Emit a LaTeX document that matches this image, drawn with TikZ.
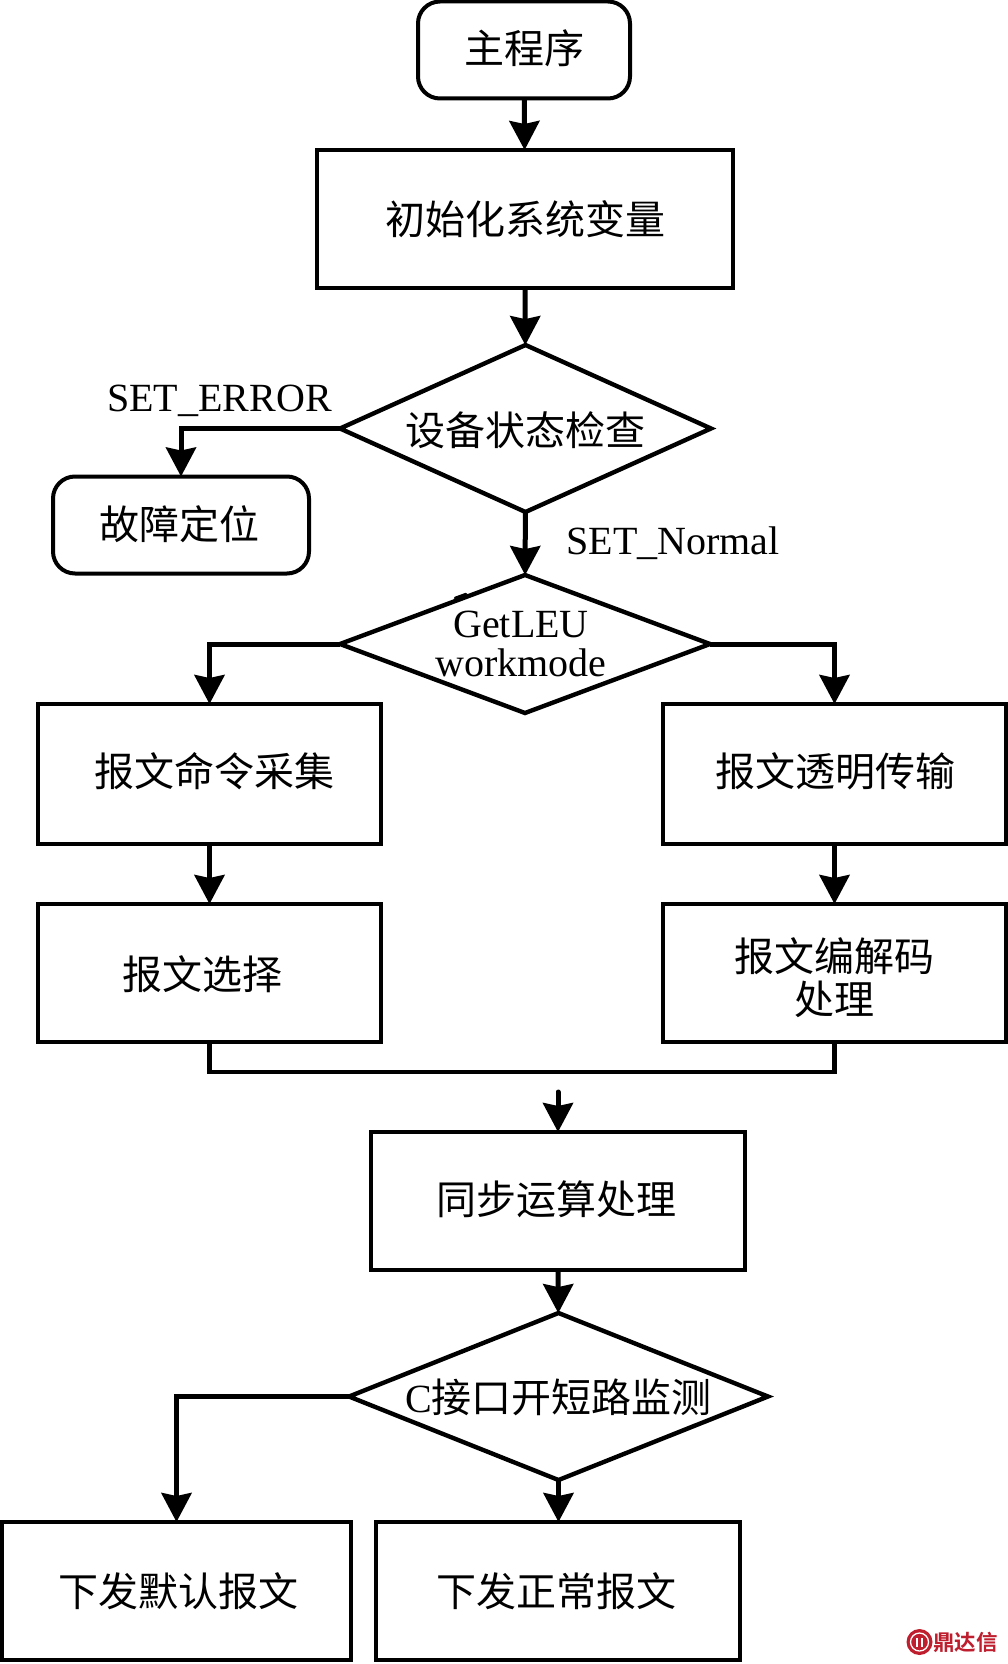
\documentclass[tikz,border=0pt]{standalone}
\usepackage{fontspec}
\setmainfont{Liberation Serif}
\newfontfamily\cjk{Noto Sans CJK SC}
\newfontfamily\cjkb{Noto Sans CJK SC Bold}
\usetikzlibrary{shapes.geometric,arrows.meta}
\definecolor{wm}{RGB}{190,30,45}
\tikzset{
  base/.style={line width=4pt,draw=black,outer sep=0pt,inner sep=0pt,align=center,
    font=\fontsize{40}{40}\selectfont},
  rbox/.style={base,rectangle},
  rrbox/.style={base,rectangle,rounded corners=22pt},
  dia/.style={base,diamond,aspect=2.2,line width=4.4pt},
  diatext/.style={align=center,inner sep=0pt,font=\fontsize{40}{40}\selectfont},
  plain/.style={inner sep=0pt,font=\fontsize{40}{40}\selectfont},
  ty/.style={text height={25pt+#1},text depth={25pt-#1}},
  arrow/.style={line width=5pt,-{Stealth[length=29pt,width=30pt,inset=3pt]}},
  line/.style={line width=4.4pt},
}
\begin{document}
\begin{tikzpicture}[x=1pt,y=-1pt]
\useasboundingbox (0,0) rectangle (1008,1664);
\fill[white] (0,0) rectangle (1008,1664);

\node[rrbox,ty=13.4pt,minimum width=212pt,minimum height=97pt] (main) at (524,50) {\cjk 主程序};
\node[rbox,ty=15.4pt,minimum width=416pt,minimum height=138pt] (init) at (525,219) {\cjk 初始化系统变量};
\node[dia,minimum width=371pt,minimum height=167pt,
  label={[diatext,yshift=-2pt]center:{\cjk 设备状态检查}}] (check) at (525.5,428.5) {};
\node[rrbox,ty=14.4pt,minimum width=256pt,minimum height=97pt] (fault) at (181,525) {\hspace*{-4pt}\cjk 故障定位};
\node[dia,minimum width=370pt,minimum height=138pt,
  label={[diatext,xshift=-4pt]center:GetLEU\\[-1pt]workmode}] (mode) at (525,644) {};
\node[rbox,ty=12.4pt,minimum width=343pt,minimum height=140pt] (collect) at (209.5,774) {\hspace*{10pt}\cjk 报文命令采集};
\node[rbox,ty=12.4pt,minimum width=343pt,minimum height=140pt] (trans) at (834.5,774) {\hspace*{2pt}\cjk 报文透明传输};
\node[rbox,ty=16.4pt,minimum width=343pt,minimum height=138pt] (select) at (209.5,973) {\hspace*{-14pt}\cjk 报文选择};
\node[rbox,minimum width=343pt,minimum height=138pt,
  label={[diatext,yshift=-4.5pt]center:{\cjk 报文编解码}\\[3pt]{\cjk 处理}}] (codec) at (834.5,973) {};
\node[rbox,ty=13.4pt,minimum width=374pt,minimum height=138pt] (sync) at (558,1201) {\hspace*{-3pt}\cjk 同步运算处理};
\node[dia,minimum width=419pt,minimum height=167pt,
  label={[diatext,yshift=-1pt]center:C{\cjk 接口开短路监测}}] (mon) at (558.5,1396.5) {};
\node[rbox,ty=15.4pt,minimum width=349pt,minimum height=138pt] (dflt) at (176.5,1591) {\hspace*{4pt}\cjk 下发默认报文};
\node[rbox,ty=15.4pt,minimum width=364pt,minimum height=138pt] (norm) at (558,1591) {\hspace*{-4pt}\cjk 下发正常报文};

\node[plain] (seterr) at (219.5,401) {SET\_ERROR};
\node[plain] (setnorm) at (673,543) {SET\_Normal};

\coordinate (gapend) at (558,1092);
\coordinate (blipa) at (455,598);
\coordinate (blipb) at (466,594);

\draw[arrow] (main) -- (init);
\draw[arrow] (init) -- (check);
\draw[arrow] (check) -- (mode);
\draw[arrow] (check.west) -| (fault.north);
\draw[arrow] (mode.west) -| (collect.north);
\draw[arrow] (mode.east) -| (trans.north);
\draw[arrow] (collect) -- (select);
\draw[arrow] (trans) -- (codec);
\draw[line] (select.south) -- ++(0,30) -| (codec.south);
\draw[arrow,line cap=round] (gapend) -- (sync.north -| gapend);
\draw[arrow] (sync) -- (mon);
\draw[arrow] (mon.west) -| (dflt.north);
\draw[arrow] (mon) -- (norm.north -| mon);
\draw[line width=2.5pt,line cap=round] (blipa) -- (blipb);

% watermark
\node[circle,fill=wm,minimum size=26pt,inner sep=0pt,outer sep=0pt] (logo) at (919.5,1642) {};
\node[circle,draw=white,line width=1.3pt,minimum size=18pt,inner sep=0pt] (logoring) at (logo) {};
\node[rectangle,fill=white,minimum width=1.6pt,minimum height=9pt,inner sep=0pt,xshift=-2.5pt] (logobara) at (logo) {};
\node[rectangle,fill=white,minimum width=1.6pt,minimum height=9pt,inner sep=0pt,xshift=2.5pt] (logobarb) at (logo) {};
\node[inner sep=0pt,text=wm,font=\cjkb\fontsize{21.5}{21.5}\selectfont] (wmark) at (965.5,1642) {鼎达信};
\end{tikzpicture}
\end{document}
